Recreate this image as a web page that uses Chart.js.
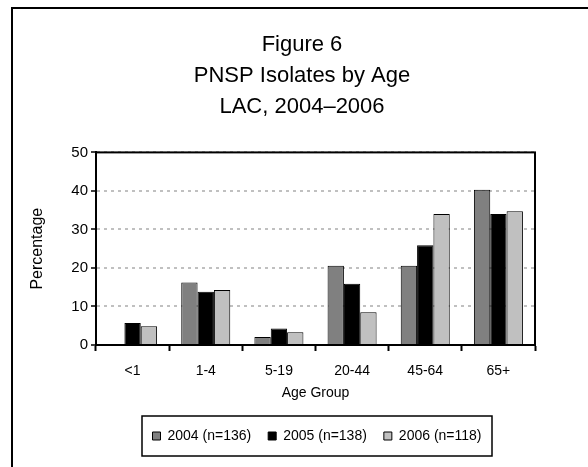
<!DOCTYPE html>
<html>
<head>
<meta charset="utf-8">
<script src="https://cdn.jsdelivr.net/npm/chart.js@4.4.0/dist/chart.umd.min.js"></script>
<style>
  html, body { margin: 0; padding: 0; background: #fff; }
  #wrap { width: 588px; height: 467px; }
</style>
</head>
<body>
<div id="wrap"><canvas id="ageChart"></canvas></div>
<script>
const ageGroups = ['<1', '1-4', '5-19', '20-44', '45-64', '65+'];
const pct2004 = [0, 16.2, 2.1, 20.6, 20.6, 40.3];
const pct2005 = [5.7, 13.8, 4.3, 15.9, 25.9, 34.0];
const pct2006 = [4.9, 14.3, 3.3, 8.5, 34.0, 34.7];
const seriesLabels = ['2004 (n=136)', '2005 (n=138)', '2006 (n=118)'];
const titleLines = ['Figure 6', 'PNSP Isolates by Age', 'LAC, 2004\u20132006'];
const yMax = 50;
const yStep = 10;

const FONT = "Arial, 'Liberation Sans', sans-serif";

// outer frame, plot box and the border round the legend
const framePlugin = {
  id: 'frame',
  beforeDraw(chart) {
    const ctx = chart.ctx;
    ctx.save();
    ctx.fillStyle = '#fff';
    ctx.fillRect(0, 0, chart.width, chart.height);
    ctx.strokeStyle = '#000';
    ctx.lineWidth = 2;
    ctx.strokeRect(12, 8, 700, 700);
    ctx.restore();
  },
  afterLayout(chart) {
    // Excel centred the title on the frame and the legend under the plot
    const t = chart.titleBlock;
    const dt = 302 - (t.left + t.right) / 2;
    t.left += dt; t.right += dt;
    const lg = chart.legend;
    const dl = 317 - (lg.left + lg.right) / 2;
    lg.left += dl; lg.right += dl;
  },
  afterDraw(chart) {
    const ctx = chart.ctx;
    const a = chart.chartArea;
    ctx.save();
    ctx.strokeStyle = '#000';
    ctx.lineWidth = 2;
    ctx.strokeRect(a.left, a.top, a.right - a.left, a.bottom - a.top);
    ctx.lineWidth = 1.5;
    ctx.strokeRect(142, 416, 350, 40);
    ctx.restore();
  }
};

new Chart(document.getElementById('ageChart'), {
  type: 'bar',
  data: {
    labels: ageGroups,
    datasets: [
      { label: seriesLabels[0], data: pct2004, backgroundColor: '#808080' },
      { label: seriesLabels[1], data: pct2005, backgroundColor: '#000000' },
      { label: seriesLabels[2], data: pct2006, backgroundColor: '#c0c0c0' }
    ]
  },
  options: {
    responsive: true,
    maintainAspectRatio: false,
    animation: false,
    layout: { padding: { left: 18, right: 53, top: 8, bottom: 14 } },
    datasets: {
      bar: {
        borderColor: '#000',
        borderWidth: 1,
        categoryPercentage: 0.67,
        barPercentage: 1.0
      }
    },
    plugins: {
      title: {
        display: true,
        text: titleLines,
        color: '#000',
        font: { family: FONT, size: 22, weight: 'normal', lineHeight: 1.4 },
        padding: { top: 22, bottom: 30 }
      },
      legend: {
        position: 'bottom',
        labels: {
          color: '#000',
          font: { family: FONT, size: 14 },
          boxWidth: 8,
          boxHeight: 8,
          padding: 17
        }
      },
      tooltip: { enabled: false }
    },
    scales: {
      x: {
        grid: {
          offset: true,
          drawOnChartArea: false,
          drawTicks: true,
          tickLength: 6,
          tickColor: '#000',
          tickWidth: 2
        },
        border: { color: '#000', width: 2 },
        ticks: { color: '#000', font: { family: FONT, size: 14 }, padding: 12 },
        title: {
          display: true,
          text: 'Age Group',
          color: '#000',
          font: { family: FONT, size: 14 },
          padding: { top: 4, bottom: 10 }
        },
        afterFit(scale) { scale.height = 67; }
      },
      y: {
        min: 0,
        max: yMax,
        ticks: { stepSize: yStep, color: '#000', font: { family: FONT, size: 15 }, padding: 3 },
        grid: {
          color: '#c0c0c0',
          lineWidth: 2,
          tickLength: 5,
          tickColor: '#000',
          tickWidth: 1.5
        },
        border: { color: '#000', width: 2, dash: [3, 4] },
        title: {
          display: true,
          text: 'Percentage',
          color: '#000',
          font: { family: FONT, size: 16 },
          padding: { top: 10, bottom: 10 }
        },
        afterFit(scale) { scale.width = 78; }
      }
    }
  },
  plugins: [framePlugin]
});
</script>
</body>
</html>
